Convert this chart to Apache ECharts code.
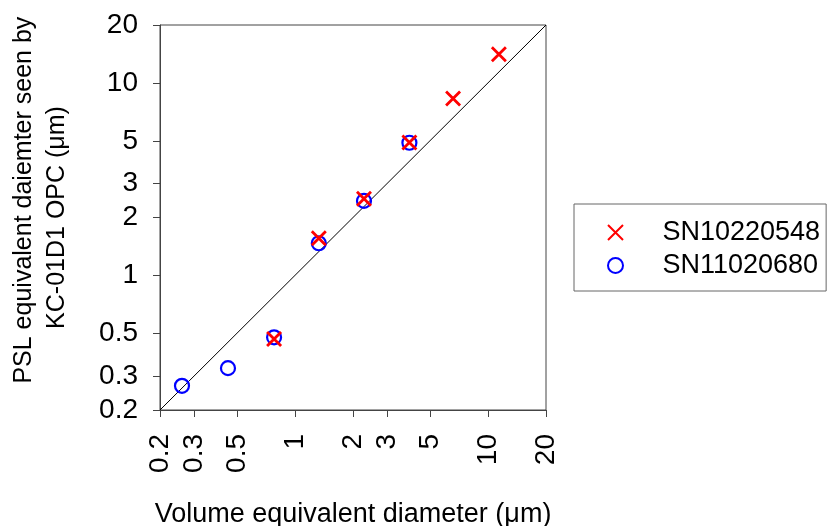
<!DOCTYPE html>
<html>
<head>
<meta charset="utf-8">
<script src="https://cdn.jsdelivr.net/npm/echarts@6/dist/echarts.min.js"></script>
<style>html,body{margin:0;padding:0;background:#fff;}#c{width:828px;height:526px;}</style>
</head>
<body>
<div id="c"></div>
<script>
// Volume equivalent diameter (µm) vs PSL equivalent diameter (µm)
const redX = [0.78, 1.33, 2.28, 3.92, 6.6, 11.4];
const redY = [0.468, 1.56, 2.5, 4.9, 8.3, 14.1];
const blueX = [0.26, 0.45, 0.78, 1.33, 2.28, 3.92];
const blueY = [0.267, 0.33, 0.477, 1.47, 2.44, 4.89];
const oneToOneX = [0.2, 20];
const oneToOneY = [0.2, 20];
const tickValues = [0.2, 0.3, 0.5, 1, 2, 3, 5, 10, 20];
const seriesNames = ['SN10220548', 'SN11020680'];

const pairs = (xs, ys) => xs.map((x, i) => [x, ys[i]]);
const font = 'Liberation Sans, Arial, sans-serif';

const chart = echarts.init(document.getElementById('c'), null, {renderer: 'canvas'});
chart.setOption({
  animation: false,
  backgroundColor: '#fff',
  grid: {left: 160, right: 282, top: 25, bottom: 116, show: true, borderColor: '#444', borderWidth: 1,
    containLabel: false, outerBoundsMode: 'none'},
  xAxis: {
    type: 'log', logBase: 10, min: 0.2, max: 20,
    name: 'Volume equivalent diameter (\u03bcm)', nameLocation: 'middle', nameGap: 90,
    nameTextStyle: {fontFamily: font, fontSize: 27, color: '#000', lineHeight: 30},
    axisLine: {show: true, lineStyle: {color: '#444', width: 1}},
    axisTick: {show: true, length: 7, inside: false, customValues: tickValues, lineStyle: {color: '#444'}},
    axisLabel: {rotate: 90, margin: 24, fontFamily: font, fontSize: 28, color: '#000', customValues: tickValues,
      formatter: v => String(+Number(v).toPrecision(3))},
    splitLine: {show: false}, minorTick: {show: false}
  },
  yAxis: {
    type: 'log', logBase: 10, min: 0.2, max: 20,
    name: '     PSL equivalent daiemter seen by\nKC-01D1 OPC (\u03bcm)', nameLocation: 'middle', nameGap: 86,
    nameTextStyle: {fontFamily: font, fontSize: 25, color: '#000', lineHeight: 33, align: 'center'},
    axisLine: {show: true, lineStyle: {color: '#444', width: 1}},
    axisTick: {show: true, length: 7, inside: false, customValues: tickValues, lineStyle: {color: '#444'}},
    axisLabel: {margin: 22, fontFamily: font, fontSize: 28, color: '#000', customValues: tickValues,
      formatter: v => String(+Number(v).toPrecision(3))},
    splitLine: {show: false}, minorTick: {show: false}
  },
  legend: {
    orient: 'vertical', left: 574, top: 204,
    padding: [13, 6, 10, 33], itemGap: 2, itemWidth: 30, itemHeight: 15,
    borderColor: '#666', borderWidth: 1, backgroundColor: '#fff',
    textStyle: {fontFamily: font, fontSize: 27, color: '#000', lineHeight: 31, padding: [0, 0, 0, 27]},
    data: seriesNames
  },
  series: [
    {
      type: 'line', data: pairs(oneToOneX, oneToOneY), showSymbol: false, silent: true,
      lineStyle: {color: '#000', width: 1}, z: 1
    },
    {
      name: seriesNames[1], type: 'scatter', data: pairs(blueX, blueY),
      symbol: 'circle', symbolSize: 14,
      itemStyle: {color: 'rgba(0,0,0,0)', borderColor: '#0000ff', borderWidth: 2.2, opacity: 1}, z: 2
    },
    {
      name: seriesNames[0], type: 'scatter', data: pairs(redX, redY),
      symbol: 'path://M0,0L10,10M10,0L0,10', symbolSize: 14,
      itemStyle: {color: 'rgba(0,0,0,0)', borderColor: '#ff0000', borderWidth: 2.8, opacity: 1}, z: 3
    }
  ]
});
</script>
</body>
</html>
